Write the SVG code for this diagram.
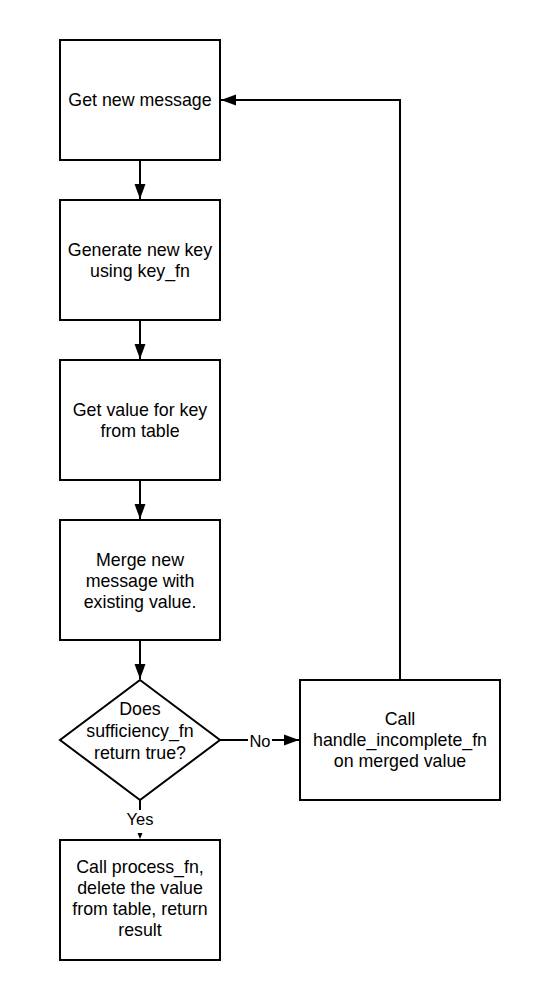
<svg xmlns="http://www.w3.org/2000/svg" width="540" height="1001" viewBox="0 0 540 1001">
<style>
.box{fill:#fff;stroke:#000;stroke-width:2}
.t{font-family:"Liberation Sans",Arial,sans-serif;font-size:17.8px;fill:#000;text-anchor:middle}
.lbl{font-family:"Liberation Sans",Arial,sans-serif;font-size:16.5px;fill:#000;text-anchor:middle}
.ln{fill:none;stroke:#000;stroke-width:2}
</style>
<defs>
<marker id="ah" markerWidth="16" markerHeight="12" refX="15" refY="6" orient="auto" markerUnits="userSpaceOnUse">
<path d="M0,0.5 L15,6 L0,11.5 Z" fill="#000"/>
</marker>
</defs>
<rect width="540" height="1001" fill="#fff"/>
<g id="connectors">
<line class="ln" x1="140" y1="160" x2="140" y2="199" marker-end="url(#ah)"/>
<line class="ln" x1="140" y1="320" x2="140" y2="359" marker-end="url(#ah)"/>
<line class="ln" x1="140" y1="480" x2="140" y2="519" marker-end="url(#ah)"/>
<line class="ln" x1="140" y1="640" x2="140" y2="679" marker-end="url(#ah)"/>
<line class="ln" x1="220" y1="740" x2="299" y2="740" marker-end="url(#ah)"/>
<rect x="248" y="732" width="24" height="17" fill="#fff"/>
<text class="lbl" x="260" y="746.5">No</text>
<line class="ln" x1="140" y1="800" x2="140" y2="810"/>
<text class="lbl" x="140" y="825">Yes</text>
<path d="M137.5,833 L142.5,833 L140,839 Z" fill="#000"/>
<polyline class="ln" points="400,680 400,100 221,100" marker-end="url(#ah)"/>
</g>
<g id="n1">
<rect class="box" x="60" y="40" width="160" height="120"/>
<text class="t" x="140" y="106">Get new message</text>
</g>
<g id="n2">
<rect class="box" x="60" y="200" width="160" height="120"/>
<text class="t" x="140" y="255.5">Generate new key</text>
<text class="t" x="140" y="276.5">using key_fn</text>
</g>
<g id="n3">
<rect class="box" x="60" y="360" width="160" height="120"/>
<text class="t" x="140" y="415.5">Get value for key</text>
<text class="t" x="140" y="436.5">from table</text>
</g>
<g id="n4">
<rect class="box" x="60" y="520" width="160" height="120"/>
<text class="t" x="140" y="565.5">Merge new</text>
<text class="t" x="140" y="586.5">message with</text>
<text class="t" x="140" y="607.5">existing value.</text>
</g>
<g id="n5">
<polygon class="box" points="140,680 220,740 140,800 60,740"/>
<text class="t" x="140" y="714.5">Does</text>
<text class="t" x="140" y="736.5">sufficiency_fn</text>
<text class="t" x="140" y="758.5">return true?</text>
</g>
<g id="n6">
<rect class="box" x="300" y="680" width="200" height="120"/>
<text class="t" x="400" y="725">Call</text>
<text class="t" x="400" y="746">handle_incomplete_fn</text>
<text class="t" x="400" y="767">on merged value</text>
</g>
<g id="n7">
<rect class="box" x="60" y="840" width="160" height="120"/>
<text class="t" x="140" y="872.5">Call process_fn,</text>
<text class="t" x="140" y="893.5">delete the value</text>
<text class="t" x="140" y="914.5">from table, return</text>
<text class="t" x="140" y="935.5">result</text>
</g>
</svg>
